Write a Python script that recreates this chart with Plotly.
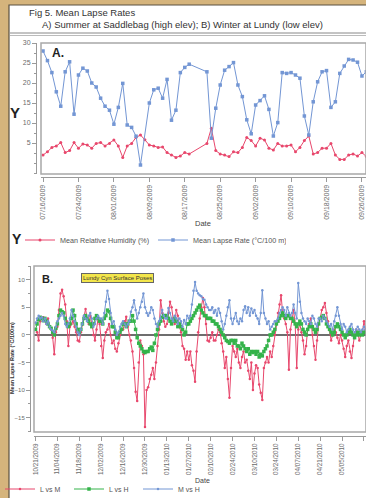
import pandas as pd
import plotly.graph_objects as go

# ---------------- Panel A data (Saddlebag, summer 2009) ----------------
a_start = "2009-07-16"
a_humidity = [2.0, 2.8, 3.9, 4.25, 5.1, 2.6, 3.1, 5.1, 3.7, 4.75, 4.5, 3.7, 4.9, 5.1,
              4.25, 4.9, 5.75, 4.25, 1.4, 4.25, 4.9, 6.4, 7.0, 5.8, 4.5, 4.25, 3.9, 4.0,
              2.6, 2.0, 1.4, 1.75, 2.6, 2.25, None, None, None, 4.9, 8.7, 3.1, 2.25, 2.0,
              1.6, 2.8, 2.6, 3.9, 6.4, 5.6, 4.25, 6.2, 5.75, 3.7, 3.25, 4.9, 4.25, 4.25,
              4.5, 2.8, 3.9, 5.6, 6.75, 2.25, 2.6, 3.7, 3.7, 4.9, 2.0, 0.9, 0.9, 2.0,
              2.25, 1.75, 2.6, 1.6]
a_lapse = [28.0, 25.6, 22.6, 17.8, 14.2, 22.8, 25.3, 12.2, 22.0, 23.7, 23.0, 20.0, 19.0, 16.2,
           14.2, 13.2, 9.7, 13.9, 19.9, 9.5, 8.9, 6.7, -0.5, None, 15.0, 18.3, 18.7, 16.2,
           20.9, 10.7, 13.2, 22.6, 23.9, 24.7, None, None, None, 22.8, 6.2, 13.7, 19.5, 23.2,
           24.1, 25.1, 19.5, 16.6, 10.8, 7.3, 14.5, 15.6, 16.8, 13.4, 6.75, 10.1, 22.6, 22.4,
           22.6, 22.0, 21.2, 11.75, 7.0, 15.3, 20.3, 22.8, 23.1, 13.9, 15.3, 22.4, 24.25, 25.9,
           25.75, 25.2, 21.75, 22.8]
a_yticks = [5, 10, 15, 20, 25, 30]

# ---------------- Panel B data (Lundy, winter 2009-2010) ----------------
b_start = "2009-10-21"
b_l_vs_m = [1.0, 0.5, -1.0, 2.5, 3.0, 3.2, 2.8, 2.0, 3.0, 1.5, 1.0, -0.5, -3.5, 0.5,
            1.5, 4.5, 7.5, 8.2, 7.0, 5.5, 2.5, -2.0, 1.5, 2.0, 2.5, 1.5, 0.5, -1.0,
            -1.2, 0.5, 2.0, 3.5, 4.7, 3.0, 2.0, 3.5, 2.0, 0.0, -1.0, 1.0, 3.0, 2.0,
            -2.0, -4.2, -1.0, 0.5, 1.0, 2.0, 0.0, -1.5, -1.0, -2.5, -3.0, -1.5, 0.0, 1.0,
            1.0, 2.5, 3.3, 1.5, 0.0, -1.0, -3.0, -6.0, -10.3, -12.0, -5.0, -1.0, -2.0, -3.5,
            -16.7, -10.0, -9.5, -8.0, -7.2, -6.0, -8.0, -5.0, -2.0, 1.0, 6.3, 4.0, 2.5, 1.5,
            2.0, 4.0, 6.0, 5.0, 3.0, 2.0, 4.5, 3.5, 1.5, 0.5, -2.0, -2.5, -4.5, -3.0,
            -4.5, -3.0, -5.5, -6.5, -8.5, -3.0, 0.5, 3.0, 5.0, 6.7, 5.0, 2.0, -1.0, -1.2,
            -0.5, 0.5, -1.0, -1.0, 0.0, 1.0, 0.5, -1.5, -3.0, -6.0, -4.0, -8.0, -11.4, -6.0,
            -2.0, -3.0, -4.0, -2.5, -5.0, -6.0, -4.0, -3.0, -5.0, -4.5, -6.5, -8.0, -5.0, -10.0,
            -7.0, -5.5, -6.0, -9.0, -10.5, -11.8, -6.0, -5.0, -4.0, -5.0, -3.0, -4.0, -2.0, 0.0,
            2.0, 4.0, 5.5, 7.2, 4.0, 3.0, 2.0, 0.5, -6.3, 1.0, 3.0, 4.5, 2.0, -6.0,
            1.0, 2.0, 0.5, -1.0, -3.5, -2.0, 1.0, 2.0, 3.0, 0.0, -2.0, -4.5, -1.0, 2.0,
            3.0, 4.5, 5.0, 5.8, 4.0, 2.5, 1.0, -1.0, 0.0, 1.0, 0.5, -0.5, -1.5, 0.0,
            -1.0, -2.5, -4.0, -2.0, -1.0, -3.0, -4.2, -2.0, 0.0, 1.0, 0.5, -1.0, 0.0, 0.5,
            2.5, 1.0]
b_l_vs_h = [1.0, 2.0, 2.8, 3.2, 3.0, 2.6, 3.0, 2.5, 2.0, 1.5, 1.2, 0.5, 0.0, 1.2,
            2.0, 3.5, 4.5, 4.2, 4.0, 3.0, 2.0, 1.5, 2.0, 3.0, 4.5, 3.5, 2.0, 1.0,
            0.5, 1.0, 2.0, 3.0, 3.5, 3.0, 2.5, 2.0, 1.5, 2.0, 3.0, 3.5, 3.0, 2.5,
            2.5, 2.0, 3.0, 3.5, 4.5, 4.2, 3.0, 1.5, 1.5, 0.5, -0.5, -0.5, 0.5, 1.0,
            2.0, 2.0, 1.5, 2.0, 2.5, 2.5, 3.5, 2.5, 1.0, -0.5, -1.5, -2.0, -2.5, -3.0,
            -3.2, -3.0, -3.0, -2.5, -2.2, -2.8, -1.5, 0.0, 1.0, 2.0, 2.5, 3.2, 3.5, 3.5,
            3.5, 3.0, 2.5, 2.0, 2.5, 3.0, 2.5, 1.5, 2.0, 1.5, 1.0, 0.0, 0.5, 2.0,
            2.0, 2.5, 3.0, 3.5, 4.0, 4.5, 5.0, 5.4, 4.5, 4.0, 3.5, 3.5, 3.0, 3.0,
            3.0, 2.5, 2.5, 2.0, 2.0, 1.5, 1.0, 0.5, 0.0, -0.5, -1.0, -1.2, -1.5, -1.0,
            -1.0, -1.5, -1.0, -2.0, -2.0, -2.5, -1.5, -2.0, -2.5, -3.0, -2.5, -3.5, -3.0, -3.2,
            -3.0, -3.5, -3.0, -4.0, -3.5, -3.8, -3.0, -2.5, -2.0, -1.0, 0.0, 0.0, 0.5, 1.0,
            2.0, 2.5, 3.0, 3.5, 4.0, 3.5, 3.0, 3.5, 3.5, 3.0, 3.0, 2.5, 2.0, 1.5,
            2.0, 2.5, 2.0, 1.0, 0.5, 0.0, 1.0, 1.5, 2.0, 1.5, 1.0, 0.5, 1.0, 2.0,
            3.0, 3.2, 3.5, 3.0, 2.0, 1.5, 1.0, 0.5, 0.0, 0.5, 1.5, 2.0, 1.5, 1.0,
            0.5, 0.0, -0.5, 0.0, 0.5, 1.0, 0.5, 0.0, -0.5, 0.0, 0.5, 0.0, 0.5, 0.0,
            0.5, 0.5]
b_m_vs_h = [2.2, 3.0, 3.5, 3.0, 3.2, 2.5, 3.0, 2.0, 2.5, 1.5, 1.0, 0.8, 0.5, 1.5,
            2.5, 3.0, 3.5, 4.0, 3.5, 2.0, 1.5, 2.0, 3.0, 4.5, 3.5, 2.5, 1.5, 0.5,
            0.0, 1.0, 2.0, 3.5, 3.0, 2.5, 3.5, 4.0, 3.0, 1.5, 2.0, 3.0, 3.5, 3.0,
            3.0, 2.0, 4.0, 6.0, 8.0, 6.5, 4.0, 2.0, 2.5, 1.0, 0.0, 0.5, 1.5, 2.0,
            2.5, 2.0, 1.5, 2.0, 2.5, 4.2, 5.0, 6.3, 4.5, 3.0, 4.0, 5.0, 6.0, 7.5,
            5.0, 4.0, 3.5, 4.0, 5.0, 4.5, 3.0, 2.0, 1.5, 2.5, 3.0, 4.5, 3.5, 3.0,
            3.0, 4.9, 4.0, 3.0, 2.5, 3.5, 3.0, 2.0, 3.0, 2.5, 1.5, 2.7, 2.0, 3.5,
            3.0, 3.5, 5.5, 8.0, 9.6, 8.0, 7.5, 7.2, 7.0, 6.5, 6.4, 5.5, 5.0, 4.5,
            4.5, 5.0, 4.0, 4.5, 3.5, 4.8, 4.0, 2.5, 1.0, 2.0, 3.5, 5.0, 6.3, 3.0,
            2.0, 3.0, 4.0, 2.5, 2.0, 3.0, 2.5, 4.5, 5.2, 4.0, 5.0, 3.5, 4.8, 4.0,
            4.5, 3.5, 3.0, 2.0, 4.0, 8.1, 4.0, 3.0, 2.0, 2.5, 1.0, 1.5, 2.0, 2.5,
            2.5, 3.0, 4.0, 4.5, 5.0, 4.5, 3.5, 5.0, 4.0, 3.5, 4.0, 5.5, 4.0, 3.0,
            9.4, 6.0, 4.0, 3.0, 2.5, 2.0, 3.0, 2.5, 2.0, 3.5, 3.0, 2.0, 1.5, 3.0,
            3.0, 2.5, 3.5, 3.0, 2.5, 2.0, 1.5, 2.0, 1.0, 2.5, 3.5, 5.0, 3.5, 2.0,
            1.0, 2.0, 1.5, 0.5, 1.0, 1.5, 2.0, 1.0, 0.5, 1.0, 1.5, 1.0, 0.5, 1.0,
            1.5, 1.0]
b_yticks = [-15, -10, -5, 0, 5, 10]

a_dates = pd.date_range(a_start, periods=len(a_lapse), freq="D")
b_dates = pd.date_range(b_start, periods=len(b_l_vs_m), freq="D")

W, H = 366, 498
def px(x):
    return x / W
def py(y):
    return 1 - y / H

RED = "#e8476c"
BLUE = "#7396d4"
GREEN = "#34b34a"
TICKC = "#6b6b6b"
AXC = "#9a9a9a"
FONT = "Liberation Sans, Arial, sans-serif"

fig = go.Figure()

fig.add_trace(go.Scatter(x=a_dates, y=a_humidity, mode="lines+markers", name="Mean Relative Humidity (%)",
                         line=dict(color=RED, width=1), marker=dict(color=RED, size=3, symbol="circle"),
                         connectgaps=True, xaxis="x", yaxis="y", legend="legend"))
fig.add_trace(go.Scatter(x=a_dates, y=a_lapse, mode="lines+markers", name="Mean Lapse Rate (°C/100 m)",
                         line=dict(color=BLUE, width=1), marker=dict(color=BLUE, size=3.5, symbol="square"),
                         connectgaps=True, xaxis="x", yaxis="y", legend="legend"))

fig.add_trace(go.Scatter(x=b_dates, y=b_l_vs_m, mode="lines+markers", name="L vs M",
                         line=dict(color=RED, width=1), marker=dict(color=RED, size=2.5, symbol="circle"),
                         xaxis="x2", yaxis="y2", legend="legend2"))
fig.add_trace(go.Scatter(x=b_dates, y=b_l_vs_h, mode="lines+markers", name="L vs H",
                         line=dict(color=GREEN, width=1), marker=dict(color=GREEN, size=3.5, symbol="square"),
                         xaxis="x2", yaxis="y2", legend="legend2"))
fig.add_trace(go.Scatter(x=b_dates, y=b_m_vs_h, mode="lines+markers", name="M vs H",
                         line=dict(color=BLUE, width=1), marker=dict(color=BLUE, size=2.5, symbol="circle"),
                         xaxis="x2", yaxis="y2", legend="legend2"))

axfont = dict(family=FONT, size=7, color=TICKC)

layout = dict(
    width=W, height=H,
    margin=dict(l=0, r=0, t=0, b=0, autoexpand=False),
    paper_bgcolor="#d5b47c",
    plot_bgcolor="white",
    font=dict(family=FONT, color="#333"),
    xaxis=dict(domain=[px(41), 1], anchor="free", position=py(177),
               type="date", range=["2009-07-15 13:00", "2009-09-26 22:00"],
               tick0="2009-07-16", dtick=8 * 86400000, tickformat="%m/%d/%Y", tickangle=-90,
               showline=True, linecolor=AXC, linewidth=1, ticks="outside", ticklen=4, tickcolor=AXC,
               tickfont=axfont, showgrid=False, zeroline=False, automargin=False),
    yaxis=dict(domain=[py(174), py(43)], anchor="free", position=px(36),
               range=[-2.75, 30], tickvals=a_yticks,
               showline=True, linecolor=AXC, linewidth=1, ticks="outside", ticklen=4, tickcolor=AXC,
               minor=dict(dtick=2.5, ticks="outside", ticklen=2, tickcolor=AXC),
               tickfont=axfont, showgrid=False, zeroline=False, automargin=False),
    xaxis2=dict(domain=[px(34), 1], anchor="free", position=py(436),
                type="date", range=["2009-10-20 01:00", "2010-05-20 07:00"],
                tick0="2009-10-21", dtick=14 * 86400000, tickformat="%m/%d/%Y", tickangle=-90,
                showline=True, linecolor=AXC, linewidth=1, ticks="outside", ticklen=4, tickcolor=AXC,
                tickfont=dict(family=FONT, size=6.3, color=TICKC),
                showgrid=False, zeroline=False, automargin=False),
    yaxis2=dict(domain=[py(432), py(266)], anchor="free", position=px(30),
                range=[-17.6, 12.5], tickvals=b_yticks,
                showline=True, linecolor=AXC, linewidth=1, ticks="outside", ticklen=4, tickcolor=AXC,
                minor=dict(dtick=2.5, ticks="outside", ticklen=2, tickcolor=AXC),
                tickfont=dict(family=FONT, size=6, color=TICKC),
                showgrid=False, zeroline=True, zerolinecolor="#6e6e6e", zerolinewidth=2, automargin=False),
    legend=dict(orientation="h", x=px(20), y=py(240), xanchor="left", yanchor="middle",
                bgcolor="rgba(0,0,0,0)", font=dict(size=7.2, color="#555"), itemwidth=30,
                entrywidth=88, tracegroupgap=0),
    legend2=dict(orientation="h", x=px(0), y=py(489), xanchor="left", yanchor="middle",
                 bgcolor="rgba(0,0,0,0)", font=dict(size=7, color="#555"), itemwidth=30,
                 entrywidth=24),
    showlegend=True,
)
fig.update_layout(**layout)

shapes = [
    dict(type="rect", xref="paper", yref="paper", x0=px(9), x1=1.01, y0=-0.01, y1=py(5),
         fillcolor="white", line=dict(color="#5a5040", width=1.2), layer="below"),
    dict(type="line", xref="paper", yref="paper", x0=px(10), x1=1, y0=py(33), y1=py(33),
         line=dict(color="#888", width=1)),
    dict(type="line", xref="paper", yref="paper", x0=px(10), x1=1, y0=py(35.5), y1=py(35.5),
         line=dict(color="#bbb", width=1)),
    dict(type="rect", xref="x domain", yref="y domain", x0=0, x1=1, y0=0, y1=1,
         line=dict(color="#a8a8a8", width=1.5)),
    dict(type="rect", xref="x2 domain", yref="y2 domain", x0=0, x1=1, y0=0, y1=1,
         line=dict(color="#a8a8a8", width=1.5)),
]
fig.update_layout(shapes=shapes)

ann = [
    dict(text="Fig 5. Mean Lapse Rates", x=px(27), y=py(13), xanchor="left", yanchor="middle",
         font=dict(size=9.5, color="#333")),
    dict(text="A) Summer at Saddlebag (high elev); B) Winter at Lundy (low elev)", x=px(40), y=py(25),
         xanchor="left", yanchor="middle", font=dict(size=9.5, color="#333")),
    dict(text="<b>A.</b>", x=px(50), y=py(53), xanchor="left", yanchor="middle", font=dict(size=12, color="#222")),
    dict(text="<b>Y</b>", x=px(15), y=py(113), xanchor="center", yanchor="middle", font=dict(size=15, color="#222")),
    dict(text="<b>Y</b>", x=px(17), y=py(239), xanchor="center", yanchor="middle", font=dict(size=14, color="#222")),
    dict(text="Date", x=px(203), y=py(223), xanchor="center", yanchor="middle", font=dict(size=7.5, color="#444")),
    dict(text="<b>B.</b>", x=px(40), y=py(279), xanchor="left", yanchor="middle", font=dict(size=11, color="#222")),
    dict(text="Lundy Cyn Surface Poses", x=px(117), y=py(278), xanchor="center", yanchor="middle",
         font=dict(size=6, color="#333"), bgcolor="#f3e64b", bordercolor="#666", borderwidth=1, borderpad=1),
    dict(text="<b>Mean Lapse Rate (°C/100m)</b>", x=px(12), y=py(358), xanchor="center", yanchor="middle",
         textangle=-90, font=dict(size=5.5, color="#333")),
    dict(text="Date", x=px(203), y=py(480), xanchor="center", yanchor="middle", font=dict(size=7, color="#444")),
]
for a in ann:
    a.update(xref="paper", yref="paper", showarrow=False)
fig.update_layout(annotations=ann)

fig.write_html("out.html", config={"displayModeBar": False},
               post_script="document.body.style.margin='0px';document.body.style.overflow='hidden';")
